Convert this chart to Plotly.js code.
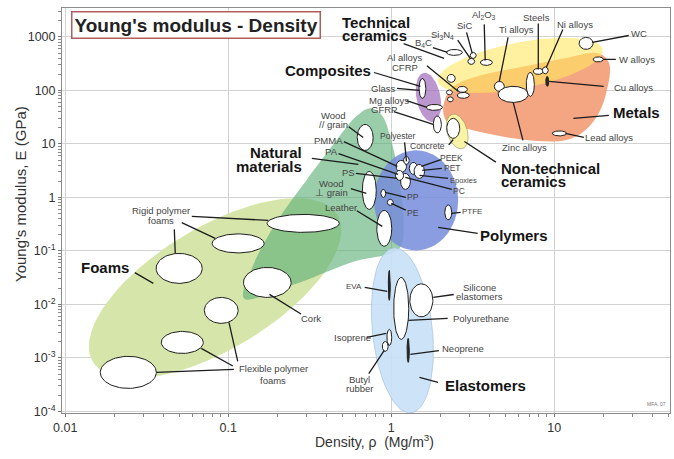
<!DOCTYPE html>
<html><head><meta charset="utf-8">
<script src="https://cdn.plot.ly/plotly-3.0.1.min.js"></script>
<style>html,body{margin:0;padding:0;background:#fff}#chart{width:674px;height:459px}</style>
</head><body><div id="chart"></div>
<script>
// ---------- DATA ----------
// axis ticks
const xTickVals = [0.01, 0.1, 1, 10];
const xTickText = ['0.01', '0.1', '1', '10'];
const yTickVals = [1e-4, 1e-3, 1e-2, 1e-1, 1, 10, 100, 1000];
const yTickText = ['10<sup>-4</sup>', '10<sup>-3</sup>', '10<sup>-2</sup>', '10<sup>-1</sup>', '1', '10', '100', '1000'];

// material bubbles: density range (Mg/m3), modulus range (GPa)
const bubbleName = ['Rigid foam A','Rigid foam B','Rigid foam C','Cork','Flexible foam A','Flexible foam B','Flexible foam C',
  'Wood // grain','Wood ⊥ grain','Leather','PP','PE','PTFE','PMMA','PEEK','PET','PC','PS','Polyester',
  'EVA','Polyurethane','Silicone elastomers','Isoprene','Butyl rubber','Neoprene',
  'Glass','Mg alloys','GFRP','Concrete','CFRP','Al alloys','Al alloys B','Al alloys C','Al alloys D',
  'Ti alloys','Zinc alloys','Cast irons','Steels','Ni alloys','Cu alloys','WC','W alloys','Lead alloys',
  'B4C','Si3N4','SiC','Al2O3'];
const rhoLo = [0.173,0.0796,0.0361,0.124,0.0713,0.0388,0.0164,
  0.618,0.664,0.815,0.863,0.946,2.13,1.07,1.29,1.38,1.14,1.06,1.19,
  0.959,1.035,1.30,0.940,0.881,1.25,
  1.48,1.64,1.81,2.19,2.54,2.54,2.18,2.21,2.20,
  4.29,4.53,6.73,7.43,8.45,8.87,14.2,17.3,9.72,
  2.18,2.95,3.05,3.52];
const rhoHi = [0.480,0.166,0.0692,0.243,0.115,0.0703,0.0362,
  0.774,0.809,1.007,0.925,1.028,2.35,1.24,1.45,1.60,1.31,1.19,1.29,
  0.986,1.28,1.80,1.007,0.957,1.29,
  1.63,2.06,2.03,2.63,2.93,3.01,2.37,2.40,2.47,
  4.94,6.92,7.55,8.57,9.18,9.25,17.3,20.0,11.9,
  2.73,3.25,3.32,4.17];
const modLo = [0.222,0.0917,0.0247,0.0135,0.00442,0.00121,0.000269,
  7.55,0.597,0.122,1.0,0.709,0.380,2.93,2.69,2.26,1.41,2.08,4.14,
  0.0119,0.00222,0.00585,0.00171,0.00132,0.000824,
  70.8,42.3,16.0,12.7,91.8,71.0,82.4,61.0,141,
  95.9,59.6,77.3,199,204,119,585,340,14.1,
  451,306,396,293];
const modHi = [0.481,0.208,0.0897,0.0491,0.0135,0.00313,0.00107,
  23.1,3.06,0.571,1.41,0.918,0.724,4.91,4.51,4.14,2.81,3.19,5.85,
  0.0432,0.0319,0.0242,0.00341,0.00203,0.00231,
  167,54.7,33.3,30.0,119,91.8,102,75.7,199,
  147,119,217,258,275,182,980,423,17.5,
  583,396,513,379];
const darkBubbles = ['EVA','Neoprene','Cu alloys'];

// family envelopes drawn as ellipses: centre (density, modulus), semi-axes in density decades, tilt (deg)
const envName  = ['Foams','Polymers','Elastomers','Technical ceramics','Composites','Non-technical ceramics'];
const envRho   = [0.0830, 1.42, 1.17, 6.18, 1.69, 2.54];
const envMod   = [0.0200, 0.879, 0.00327, 293, 74.0, 17.1];
const envA     = [0.875, 0.258, 0.509, 0.515, 0.153, 0.110];
const envB     = [0.375, 0.307, 0.184, 0.141, 0.0736, 0.0613];
const envTilt  = [31, 0, 96, 11, 101, 107];

// family envelopes drawn as outlines
const naturalRho = [0.125,0.142,0.197,0.301,0.460,0.610,0.733,0.869,1.0,1.12,1.19,1.12,0.568,0.244];
const naturalMod = [0.0129,0.0536,0.341,2.08,11.6,32.7,46.1,35.6,11.6,2.08,0.300,0.111,0.0610,0.0227];
const metalRho = [2.08,2.33,3.56,5.69,11.5,18.6,21.7,20.8,18.1,14.6,11.5,6.28,2.81,2.24];
const metalMod = [42.3,109,191,258,396,492,320,87.9,31.3,15.7,11.6,12.1,19.5,24.2];

// ---------- LAYOUT / STYLE ----------
const W = 674, H = 459, M = {l: 62, r: 4, t: 8, b: 46};
const XR = [-2.02, 1.71], YR = [-4.03, 3.54];
const K = ((W - M.l - M.r) / (XR[1] - XR[0])) / ((H - M.t - M.b) / (YR[1] - YR[0]));
const N = 80;
const FONT = 'Liberation Sans, Arial, sans-serif';

const envStyle = {
  'Foams': {fill: 'rgb(214,230,170)', line: null},
  'Polymers': {fill: 'rgba(118,140,218,0.85)', line: null},
  'Elastomers': {fill: 'rgba(200,224,246,0.9)', line: 'rgba(150,180,215,0.7)'},
  'Technical ceramics': {fill: 'rgba(255,232,95,0.6)', line: null},
  'Composites': {fill: 'rgba(160,105,185,0.7)', line: null},
  'Non-technical ceramics': {fill: 'rgb(248,243,165)', line: 'rgba(150,150,90,0.8)'}
};

const traces = [];
function addFill(xs, ys, fill, line, lw, spline) {
  traces.push({type: 'scatter', mode: 'lines', x: xs, y: ys, fill: 'toself', fillcolor: fill,
    line: {color: line || 'rgba(0,0,0,0)', width: line ? (lw || 1) : 0, shape: spline ? 'spline' : 'linear', smoothing: 1},
    hoverinfo: 'skip', showlegend: false});
}
function tilted(rc, ec, a, b, deg) {
  const cx = Math.log10(rc), cy = Math.log10(ec), th = deg * Math.PI / 180, xs = [], ys = [];
  for (let i = 0; i <= N; i++) {
    const t = 2 * Math.PI * i / N, u = a * Math.cos(t), w = b * Math.sin(t);
    const dx = u * Math.cos(th) - w * Math.sin(th), dy = u * Math.sin(th) + w * Math.cos(th);
    xs.push(Math.pow(10, cx + dx)); ys.push(Math.pow(10, cy + dy * K));
  }
  return [xs, ys];
}
function rangeEllipse(r0, r1, e0, e1) {
  const cx = (Math.log10(r0) + Math.log10(r1)) / 2, hx = (Math.log10(r1) - Math.log10(r0)) / 2;
  const cy = (Math.log10(e0) + Math.log10(e1)) / 2, hy = (Math.log10(e1) - Math.log10(e0)) / 2;
  const xs = [], ys = [];
  for (let i = 0; i <= N; i++) {
    const t = 2 * Math.PI * i / N;
    xs.push(Math.pow(10, cx + hx * Math.cos(t))); ys.push(Math.pow(10, cy + hy * Math.sin(t)));
  }
  return [xs, ys];
}
function envelope(name) {
  const i = envName.indexOf(name), s = envStyle[name];
  const [xs, ys] = tilted(envRho[i], envMod[i], envA[i], envB[i], envTilt[i]);
  addFill(xs, ys, s.fill, s.line, 0.8, false);
}

// draw order of envelopes
envelope('Foams');
addFill(naturalRho.concat([naturalRho[0]]), naturalMod.concat([naturalMod[0]]), 'rgba(92,175,118,0.62)', null, 0, true);
envelope('Polymers');
envelope('Elastomers');
addFill(metalRho.concat([metalRho[0]]), metalMod.concat([metalMod[0]]), 'rgb(244,166,130)', null, 0, true);
envelope('Technical ceramics');
envelope('Composites');
envelope('Non-technical ceramics');

// material bubbles
bubbleName.forEach((nm, i) => {
  const [xs, ys] = rangeEllipse(rhoLo[i], rhoHi[i], modLo[i], modHi[i]);
  const dark = darkBubbles.indexOf(nm) >= 0;
  addFill(xs, ys, dark ? '#2a2a2a' : '#ffffff', '#1e1e1e', 1, false);
});

// labels: [text, target density, target modulus, text dx, text dy, line dx, line dy, kind, anchor, line spacing, size]
const labels = [
  ['Rigid polymer|foams', 0.176, 0.372, -107, -4.5, -77, -4, 's', 'center', 10],
  ['', 0.0832, 0.171, 0, 0, -34, -16],
  ['', 0.0473, 0.0898, 0, 0, -1, -25],
  ['Foams', 0.0347, 0.0247, -48, -16, -19, -11, 'b'],
  ['Cork', 0.179, 0.0154, 42, 24, 32, 20, 's'],
  ['Flexible polymer|foams', 0.0362, 0.000536, 117, 2, 78, -3, 's', 'center', 12],
  ['', 0.0683, 0.00151, 0, 0, 32, 18],
  ['', 0.101, 0.00461, 0, 0, 9, 40],
  ['Natural|materials', 0.628, 4.14, -54, -5, -47, -6, 'b', 'right', 14],
  ['Wood|// grain', 0.673, 13.2, -30, -17, -15, -11, 's', 'center', 9],
  ['PMMA', 1.09, 3.80, -69, -26, -54, -25, 's'],
  ['PA', 1.10, 2.69, -67, -23, -60, -21, 's'],
  ['PS', 1.09, 2.27, -49, -6, -42, -5, 's'],
  ['Wood|⊥ grain', 0.703, 1.19, -35, -5.5, -16, -5, 's', 'center', 9],
  ['Leather', 0.881, 0.287, -41, -19, -26, -16, 's'],
  ['PP', 0.919, 1.24, 28, 5, 21, 5, 's', 'center', 0, 8.5],
  ['PE', 1.0, 0.772, 22, 10, 15, 7, 's', 'center', 0, 8.5],
  ['PTFE', 2.33, 0.502, 21, -2, 10, -1, 's', 'center', 0, 8],
  ['Polyester', 1.24, 4.71, -8, -25, -2, -20, 's', 'center', 0, 8.5],
  ['Concrete', 2.40, 12.1, -26, 7, -5, 6, 's', 'center', 0, 8.5],
  ['PEEK', 1.53, 3.80, 30, -8, 20, -7, 's', 'center', 0, 8.5],
  ['PET', 1.55, 3.20, 30, -2, 20, -2, 's', 'center', 0, 8.5],
  ['Epoxies', 1.49, 2.58, 44, 5, 29, 3, 's', 'center', 0, 7.5],
  ['PC', 1.22, 2.36, 54, 14, 47, 12, 's', 'center', 0, 8.5],
  ['Polymers', 1.94, 0.275, 76, 8, 40, 6, 'b'],
  ['Composites', 1.51, 119, -92, -16, -47, -14, 'b'],
  ['Glass', 1.49, 100, -36, -2, -23, -2, 's'],
  ['Mg alloys', 1.66, 48.1, -38, -7, -21, -7, 's'],
  ['GFRP', 1.81, 23.1, -49, -15, -40, -13, 's'],
  ['Al alloys|CFRP', 2.58, 95.8, -53, -28.5, -32, -26, 's', 'center', 10],
  ['Technical|ceramics', 2.11, 396, -104, -29.5, -41, -15, 'b', 'left', 13],
  ['B<sub>4</sub>C', 2.21, 513, -24, -9, -15, -5, 's'],
  ['Si<sub>3</sub>N<sub>4</sub>', 3.05, 396, -28, -23, -13, -19, 's'],
  ['SiC', 3.14, 492, -8, -28, -6, -22, 's'],
  ['Al<sub>2</sub>O<sub>3</sub>', 3.77, 364, -1, -45, -1, -37, 's'],
  ['Ti alloys', 4.60, 147, 17, -52, 9, -45, 's'],
  ['Steels', 7.98, 247, -2, -52, 0, -47, 's'],
  ['Ni alloys', 8.93, 269, 29, -43, 17, -39, 's'],
  ['WC', 17.1, 789, 47, -9, 37, -7, 's'],
  ['W alloys', 20.0, 380, 34, 0, 13, 0, 's'],
  ['Cu alloys', 9.31, 147, 84, 6, 55, 5, 's'],
  ['Metals', 13.1, 30.0, 63, -6, 36, -3, 'b'],
  ['Lead alloys', 11.7, 15.7, 44, 4, 19, 4, 's'],
  ['Zinc alloys', 5.60, 59.7, 11, 45, 10, 39, 's'],
  ['Non-technical|ceramics', 2.81, 11.1, 35, 33.5, 32, 21, 'b', 'left', 13],
  ['EVA', 0.945, 0.0175, -33, -5, -23, -4, 's', 'center', 0, 8],
  ['Silicone|elastomers', 1.81, 0.0135, 46, -5.5, 21, -3, 's', 'center', 9],
  ['Polyurethane', 1.27, 0.00502, 73, -2, 40, -2, 's'],
  ['Isoprene', 0.932, 0.00287, -34, 4, -20, 4, 's'],
  ['Butyl|rubber', 0.906, 0.00138, -25, 34, -16, 24, 's', 'center', 9],
  ['Neoprene', 1.31, 0.00116, 53, -6, 29, -4, 's'],
  ['Elastomers', 1.49, 0.000432, 66, 8, 19, 5, 'b']
];

const annotations = [];
labels.forEach(lb => {
  const [txt, rho, E, tdx, tdy, ldx, ldy, kind, anchor, sp, size] = lb;
  const x = Math.log10(rho), y = Math.log10(E);
  annotations.push({x: x, y: y, xref: 'x', yref: 'y', text: ' ', showarrow: true, arrowhead: 0,
    arrowwidth: 1.3, arrowcolor: '#1c1c1c', ax: ldx, ay: ldy, axref: 'pixel', ayref: 'pixel',
    standoff: 0, startstandoff: 0, font: {size: 1}, borderpad: 0});
  if (!txt) return;
  const lines = txt.split('|'), n = lines.length;
  lines.forEach((ln, i) => {
    const bold = kind === 'b';
    annotations.push({x: x, y: y, xref: 'x', yref: 'y', showarrow: false,
      text: bold ? '<b>' + ln + '</b>' : ln,
      xanchor: anchor || 'center', yanchor: 'middle',
      xshift: tdx, yshift: -(tdy + (i - (n - 1) / 2) * (sp || 10)),
      font: {family: FONT, size: bold ? 15 : (size || 9.5), color: bold ? '#151515' : '#444'}});
  });
});

// chart title box, axis titles, credit
const px2paperX = p => (p - M.l) / (W - M.l - M.r);
const px2paperY = p => (H - M.b - p) / (H - M.t - M.b);
annotations.push({xref: 'paper', yref: 'paper', x: px2paperX(196), y: px2paperY(25), showarrow: false,
  text: "<b>Young's modulus - Density</b>", font: {family: FONT, size: 19, color: '#222'},
  bgcolor: '#ffffff', bordercolor: '#b35c5c', borderwidth: 1.5, borderpad: 2, xanchor: 'center', yanchor: 'middle'});
annotations.push({xref: 'paper', yref: 'paper', x: px2paperX(20), y: px2paperY(194), showarrow: false,
  text: "Young's modulus, E (GPa)", textangle: -90, font: {family: FONT, size: 15, color: '#333'},
  xanchor: 'center', yanchor: 'middle'});
annotations.push({xref: 'paper', yref: 'paper', x: px2paperX(374), y: px2paperY(441), showarrow: false,
  text: 'Density, ρ  (Mg/m<sup>3</sup>)', font: {family: FONT, size: 14, color: '#333'},
  xanchor: 'center', yanchor: 'middle'});
annotations.push({xref: 'paper', yref: 'paper', x: px2paperX(656), y: px2paperY(404), showarrow: false,
  text: 'MFA, 07', font: {family: FONT, size: 5, color: '#777'}, xanchor: 'center', yanchor: 'middle'});

// minor tick positions
const minorX = [], minorY = [];
for (let e = -3; e <= 1; e++) for (let m = 2; m <= 9; m++) minorX.push(m * Math.pow(10, e));
for (let e = -5; e <= 3; e++) for (let m = 2; m <= 9; m++) minorY.push(m * Math.pow(10, e));

const axisCommon = {type: 'log', showgrid: true, gridcolor: '#d2d2d2', gridwidth: 1, zeroline: false,
  showline: true, mirror: true, linecolor: '#8c8c8c', linewidth: 1, ticks: 'outside', ticklen: 3,
  tickcolor: '#777', tickmode: 'array', tickfont: {family: FONT, size: 12.5, color: '#333'}, fixedrange: true};

const layout = {
  width: W, height: H, margin: M, paper_bgcolor: '#fff', plot_bgcolor: '#fff', showlegend: false,
  hovermode: false,
  xaxis: Object.assign({}, axisCommon, {range: XR, tickvals: xTickVals, ticktext: xTickText,
    minor: {tickmode: 'array', tickvals: minorX, ticks: 'outside', ticklen: 3, tickcolor: '#888', showgrid: false}}),
  yaxis: Object.assign({}, axisCommon, {range: YR, tickvals: yTickVals, ticktext: yTickText,
    minor: {tickmode: 'array', tickvals: minorY, ticks: 'outside', ticklen: 3, tickcolor: '#888', showgrid: false}}),
  annotations: annotations
};

Plotly.newPlot('chart', traces, layout, {staticPlot: true, displayModeBar: false});
</script></body></html>
